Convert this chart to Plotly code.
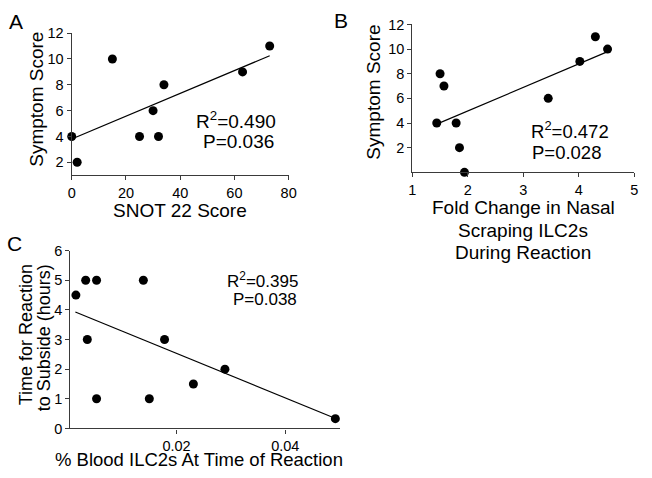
import plotly.graph_objects as go

W, H = 652, 478

# ---- data ----
a_x = [0, 2, 15, 25, 30, 32, 34, 63, 73]
a_y = [4, 2, 10, 4, 6, 4, 8, 9, 11]
a_fit_x = [0, 73]
a_fit_y = [3.8, 10.25]

b_x = [1.44, 1.50, 1.57, 1.79, 1.85, 1.94, 3.45, 4.02, 4.30, 4.52]
b_y = [4, 8, 7, 4, 2, 0, 6, 9, 11, 10]
b_fit_x = [1.46, 4.50]
b_fit_y = [3.95, 9.75]

c_x = [0.0015, 0.0033, 0.0036, 0.0053, 0.0053, 0.0139, 0.0150, 0.0178, 0.0231, 0.0289, 0.0492]
c_y = [4.5, 5, 3, 5, 1, 5, 1, 3, 1.5, 2, 0.33]
c_fit_x = [0.0014, 0.0497]
c_fit_y = [3.93, 0.30]

a_xticks = [0, 20, 40, 60, 80]
a_yticks = [2, 4, 6, 8, 10, 12]
b_xticks = [1, 2, 3, 4, 5]
b_yticks = [2, 4, 6, 8, 10, 12]
c_xticks = [0.02, 0.04]
c_xticklabels = ["0.02", "0.04"]
c_yticks = [0, 1, 2, 3, 4, 5, 6]

FONT = "Liberation Sans, Arial, sans-serif"
AX = "#3a3a3a"


def px(x):
    return x / W


def py(y):
    return 1 - y / H


fig = go.Figure()

for xs, ys, fx, fy, xa, ya in [
    (a_x, a_y, a_fit_x, a_fit_y, "x", "y"),
    (b_x, b_y, b_fit_x, b_fit_y, "x2", "y2"),
    (c_x, c_y, c_fit_x, c_fit_y, "x3", "y3"),
]:
    fig.add_trace(go.Scatter(x=fx, y=fy, mode="lines", xaxis=xa, yaxis=ya,
                             line=dict(color="black", width=1.2), cliponaxis=False,
                             showlegend=False, hoverinfo="skip"))
    fig.add_trace(go.Scatter(x=xs, y=ys, mode="markers", xaxis=xa, yaxis=ya,
                             marker=dict(color="black", size=9), cliponaxis=False,
                             showlegend=False))

common = dict(showline=True, linecolor=AX, linewidth=1.3, ticks="outside",
              ticklen=4, tickcolor=AX, tickwidth=1.3, showgrid=False, zeroline=False,
              tickfont=dict(family=FONT, size=14.5, color="black"), mirror=False)

fig.update_layout(
    width=W, height=H, margin=dict(l=0, r=0, t=0, b=0),
    paper_bgcolor="white", plot_bgcolor="white",
    xaxis=dict(domain=[px(69), px(290)], range=[0, 80], tickvals=a_xticks,
               anchor="y", **common),
    yaxis=dict(domain=[py(173), py(26)], range=[1, 12], tickvals=a_yticks,
               anchor="x", **common),
    xaxis2=dict(domain=[px(416), px(642)], range=[1, 5], tickvals=b_xticks,
                anchor="y2", **common),
    yaxis2=dict(domain=[py(170), py(17)], range=[0, 12], tickvals=b_yticks,
                anchor="x2", **common),
    xaxis3=dict(domain=[px(67.7), px(342)], range=[0.0005, 0.05], tickvals=c_xticks,
                ticktext=c_xticklabels, anchor="y3", **common),
    yaxis3=dict(domain=[py(435), py(251)], range=[0, 6], tickvals=c_yticks,
                anchor="x3", **common),
)


def ann(text, x, y, size=19, angle=0):
    fig.add_annotation(text=text, x=px(x), y=py(y), xref="paper", yref="paper",
                       showarrow=False, xanchor="center", yanchor="middle",
                       textangle=angle, font=dict(family=FONT, size=size, color="black"))


# panel letters
ann("A", 12, 14, 21)
ann("B", 343, 12.5, 21)
ann("C", 10.5, 244, 21)

# axis titles
ann("Symptom Score", 33, 94.5, 19, -90)
ann("SNOT 22 Score", 179, 210, 19)
ann("Symptom Score", 377, 87.5, 19, -90)
ann("Fold Change in Nasal", 529, 206.7, 19)
ann("Scraping ILC2s", 529, 230, 19)
ann("During Reaction", 529, 252.7, 19)
ann("Time for Reaction", 22, 338, 18, -90)
ann("to Subside (hours)", 40.5, 341, 18, -90)
ann("% Blood ILC2s At Time of Reaction", 199, 467, 18.5)

# stats
ann("R<sup>2</sup>=0.490", 236, 116, 19)
ann("P=0.036", 239, 138, 19)
ann("R<sup>2</sup>=0.472", 576.5, 126, 18.5)
ann("P=0.028", 573, 150, 18.5)
ann("R<sup>2</sup>=0.395", 263, 281.5, 17)
ann("P=0.038", 265.5, 302, 17)

fig.write_html("out.html", config={"displayModeBar": False},
               post_script="document.body.style.margin='0';document.body.style.overflow='hidden';")
